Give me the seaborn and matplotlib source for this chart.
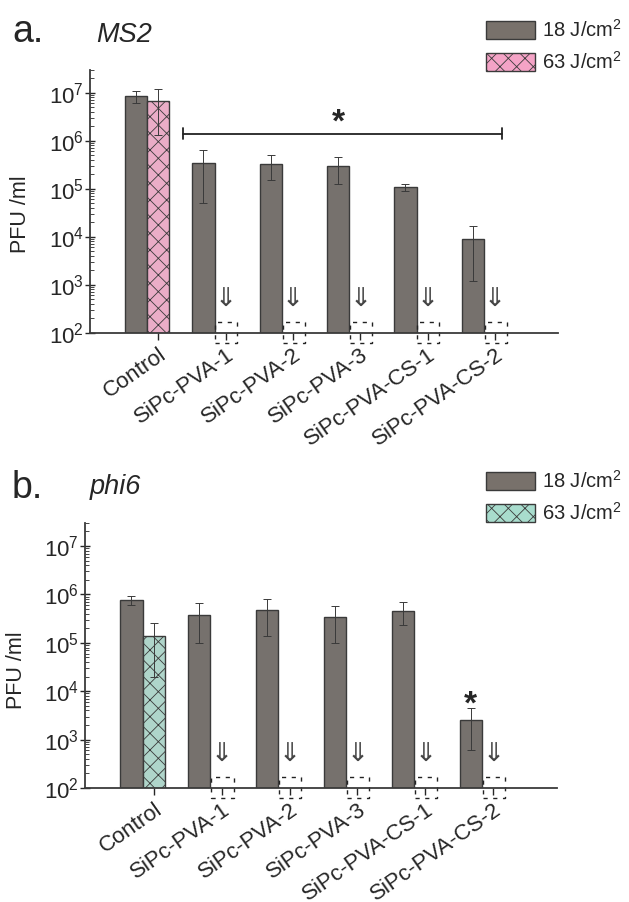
import numpy as np
import pandas as pd
import matplotlib
matplotlib.use("Agg")
import matplotlib.pyplot as plt
import matplotlib.patches as mpatches
from matplotlib.ticker import LogLocator, NullFormatter
import seaborn as sns

# muestras y dosis
muestras = ["Control", "SiPc-PVA-1", "SiPc-PVA-2", "SiPc-PVA-3",
            "SiPc-PVA-CS-1", "SiPc-PVA-CS-2"]
dosis = ["18 J/cm$^{2}$", "63 J/cm$^{2}$"]

# MS2 (PFU/ml), nan = bajo el limite de deteccion
ms2_18 = [8.4e6, 3.5e5, 3.3e5, 2.95e5, 1.1e5, 9.0e3]
ms2_18_err = [2.3e6, 3.0e5, 1.8e5, 1.7e5, 1.8e4, 7.8e3]
ms2_63 = [6.7e6, np.nan, np.nan, np.nan, np.nan, np.nan]
ms2_63_err = [5.4e6, np.nan, np.nan, np.nan, np.nan, np.nan]

# phi6 (PFU/ml)
phi6_18 = [7.6e5, 3.8e5, 4.7e5, 3.4e5, 4.6e5, 2.5e3]
phi6_18_err = [1.5e5, 2.8e5, 3.3e5, 2.4e5, 2.3e5, 1.9e3]
phi6_63 = [1.4e5, np.nan, np.nan, np.nan, np.nan, np.nan]
phi6_63_err = [1.2e5, np.nan, np.nan, np.nan, np.nan, np.nan]

gris = "#78716b"
rosa = "#f4a3c6"
verde = "#a8dccd"
borde = "#3a3a3a"

sns.set_theme(style="white")
plt.rcParams["font.family"] = ["Liberation Sans", "DejaVu Sans"]
plt.rcParams["mathtext.fontset"] = "custom"
plt.rcParams["mathtext.rm"] = "Liberation Sans"
plt.rcParams["mathtext.it"] = "Liberation Sans:italic"
plt.rcParams["hatch.linewidth"] = 0.6


def panel(ax, v18, e18, v63, e63, color63):
    df = pd.DataFrame({
        "muestra": muestras * 2,
        "dosis": [dosis[0]] * 6 + [dosis[1]] * 6,
        "pfu": list(v18) + list(v63),
    }).dropna()
    sns.barplot(data=df, x="muestra", y="pfu", hue="dosis", order=muestras,
                hue_order=dosis, palette=[gris, color63], width=0.66,
                errorbar=None, edgecolor=borde, linewidth=1.0,
                legend=False, ax=ax)
    for bar in ax.containers[1]:
        bar.set_hatch("xx")

    x = np.arange(len(muestras))
    ax.errorbar(x - 0.165, v18, yerr=e18, fmt="none", ecolor=borde,
                elinewidth=0.7, capsize=3, capthick=0.7)
    ax.errorbar(x + 0.165, v63, yerr=e63, fmt="none", ecolor=borde,
                elinewidth=0.7, capsize=3, capthick=0.7)

    ax.set_yscale("log")
    ax.set_ylim(1e2, 3e7)
    ax.set_xlim(-0.85, 6.1)
    ax.yaxis.set_major_locator(LogLocator(base=10, numticks=10))
    ax.yaxis.set_minor_locator(LogLocator(base=10, subs=np.arange(2, 10), numticks=20))
    ax.yaxis.set_minor_formatter(NullFormatter())
    ax.tick_params(axis="y", which="major", direction="inout", length=7,
                   width=1.0, labelsize=16, left=True, pad=1)
    ax.tick_params(axis="y", which="minor", direction="in", length=3,
                   width=0.6, left=True)

    ax.set_xticks(x + 0.165)
    ax.set_xticklabels(muestras, rotation=35, ha="right",
                       rotation_mode="anchor", fontsize=16)
    ax.tick_params(axis="x", direction="out", length=5, width=1.0,
                   bottom=True, pad=3)
    ax.set_xlabel("")
    ax.set_ylabel("PFU /ml", fontsize=15.5)

    for s in ["top", "right"]:
        ax.spines[s].set_visible(False)
    for s in ["left", "bottom"]:
        ax.spines[s].set_color(borde)
        ax.spines[s].set_linewidth(1.3)

    # marcas de bajo limite de deteccion
    for i in range(1, len(muestras)):
        ax.text(i + 0.165, 10 ** 2.69, "\u21d3", ha="center", va="center",
                fontsize=19, family="DejaVu Sans", color="#444444")
        ax.add_patch(mpatches.Rectangle((i + 0.01, 10 ** 1.79), 0.33,
                                        10 ** 2.23 - 10 ** 1.79, fill=False,
                                        ec="#222222", lw=1.0,
                                        ls=(0, (3, 4)), clip_on=False))


fig = plt.figure(figsize=(6.29, 9.02), dpi=100)
ax1 = fig.add_axes([0.143, 0.631, 0.744, 0.2916])
ax2 = fig.add_axes([0.135, 0.1264, 0.750, 0.2938])

panel(ax1, ms2_18, ms2_18_err, ms2_63, ms2_63_err, rosa)
panel(ax2, phi6_18, phi6_18_err, phi6_63, phi6_63_err, verde)
ax1.yaxis.set_label_coords(-0.126, 0.45)
ax2.yaxis.set_label_coords(-0.123, 0.445)

# significancia
ax1.plot([0.53, 5.27], [1.4e6, 1.4e6], color="#222222", lw=1.3)
for xb in [0.53, 5.27]:
    ax1.plot([xb, xb], [1.4e6 / 1.3, 1.4e6 * 1.3], color="#222222", lw=1.3)
ax1.text(2.84, 2.3e6, "*", ha="center", va="center", fontsize=24,
         fontweight="bold")
ax2.text(5 - 0.165, 5.2e3, "*", ha="center", va="center", fontsize=24,
         fontweight="bold")

# titulos de panel
fig.text(12 / 629, 1 - 42 / 902, "a.", fontsize=27, va="baseline")
fig.text(96 / 629, 1 - 42 / 902, "MS2", fontsize=19.5, style="italic",
         va="baseline")
fig.text(12 / 629, 1 - 498 / 902, "b.", fontsize=27, va="baseline")
fig.text(90 / 629, 1 - 494 / 902, "phi6", fontsize=19.5, style="italic",
         va="baseline")

# leyendas
for color63, y0 in [(rosa, 1 - 19 / 902), (verde, 1 - 470 / 902)]:
    handles = [mpatches.Patch(facecolor=gris, edgecolor=borde, lw=1.0),
               mpatches.Patch(facecolor=color63, edgecolor=borde, lw=1.0,
                              hatch="xx")]
    fig.legend(handles, dosis, loc="upper left",
               bbox_to_anchor=(486 / 629, y0), frameon=False, fontsize=14.5,
               handlelength=2.45, handleheight=1.0, handletextpad=0.35,
               labelspacing=0.5, borderpad=0, borderaxespad=0)

fig.savefig("out.png", dpi=100)
